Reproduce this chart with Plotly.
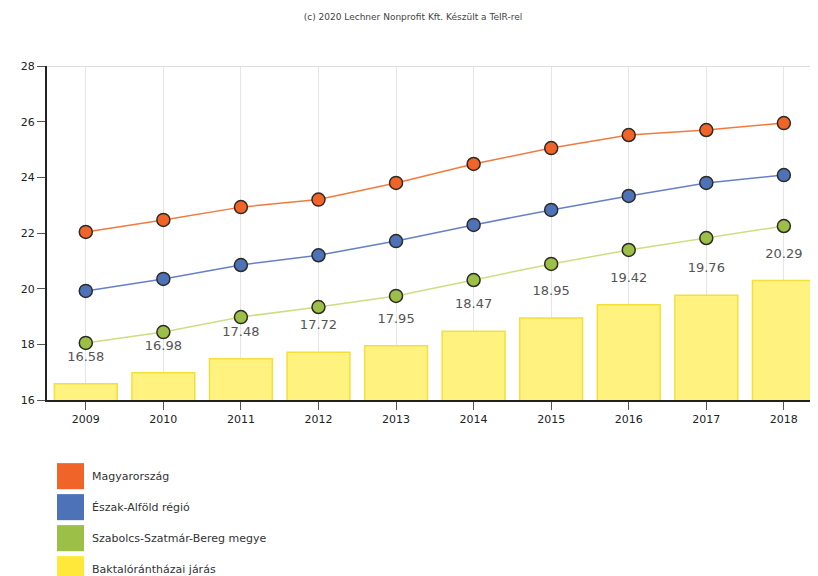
import plotly.graph_objects as go

years = ["2009", "2010", "2011", "2012", "2013", "2014", "2015", "2016", "2017", "2018"]
magyarorszag = [22.04, 22.47, 22.93, 23.2, 23.8, 24.48, 25.05, 25.52, 25.7, 25.95]
eszak_alfold = [19.92, 20.35, 20.85, 21.2, 21.71, 22.29, 22.83, 23.33, 23.8, 24.08]
szszb_megye = [18.05, 18.44, 18.98, 19.34, 19.74, 20.31, 20.89, 21.39, 21.82, 22.25]
baktalo_jaras = [16.58, 16.98, 17.48, 17.72, 17.95, 18.47, 18.95, 19.42, 19.76, 20.29]

names = ["Magyarország", "Észak-Alföld régió", "Szabolcs-Szatmár-Bereg megye", "Baktalórántházai járás"]
colors = ["#F0642A", "#4E72B8", "#9BBF47", "#FFE83A"]
line_colors = ["#F27A3E", "#6680C8", "#CFDD80"]
title = "(c) 2020 Lechner Nonprofit Kft. Készült a TeIR-rel"

FONT = "DejaVu Sans"

fig = go.Figure()
fig.add_bar(
    x=years,
    y=baktalo_jaras,
    marker=dict(color="#FFF27E", line=dict(color="#F5DF3A", width=1.5)),
    width=0.81,
    text=[f"{v:.2f}<br> " for v in baktalo_jaras],
    textposition="outside",
    textfont=dict(family=FONT, size=13, color="#555555"),
    cliponaxis=False,
    showlegend=False,
)

for series, c, lc in zip([magyarorszag, eszak_alfold, szszb_megye], colors[:3], line_colors):
    fig.add_scatter(
        x=years,
        y=series,
        mode="lines+markers",
        line=dict(color=lc, width=1.5),
        marker=dict(size=13, color=c, line=dict(color="#2e2a24", width=1.5)),
        showlegend=False,
    )

# legend drawn below the plot as coloured squares with labels
for i, (n, c) in enumerate(zip(names, colors)):
    top = -0.189 - i * 0.0928
    fig.add_shape(type="rect", xref="paper", yref="paper",
                  x0=0.013, x1=0.048, y0=top - 0.078, y1=top,
                  fillcolor=c, line=dict(width=0))
    fig.add_annotation(xref="paper", yref="paper", x=0.056, y=top - 0.039,
                       text=n, showarrow=False, xanchor="left", yanchor="middle",
                       font=dict(family=FONT, size=11, color="#333333"))

# page body has an 8px margin, so the figure is sized to fit the window
fig.update_layout(
    width=810,
    height=568,
    margin=dict(l=39, r=0, t=58, b=176),
    paper_bgcolor="white",
    plot_bgcolor="white",
    title=dict(text=title, x=0.5, xanchor="center", y=0.984, yanchor="middle",
               font=dict(family=FONT, size=9, color="#444444")),
    font=dict(family=FONT, size=11, color="#222222"),
)
fig.update_xaxes(
    type="category",
    range=[-0.5, 9.44],
    showgrid=True, gridcolor="#E6E6E6",
    showline=True, linecolor="#222222", linewidth=2,
    ticks="outside", ticklen=8, tickcolor="#555555",
    tickfont=dict(family=FONT, size=11, color="#222222"),
)
fig.update_yaxes(
    range=[16, 28],
    dtick=2,
    showgrid=False,
    showline=True, linecolor="#222222", linewidth=2,
    ticks="outside", ticklen=8, tickcolor="#555555",
    tickfont=dict(family=FONT, size=11, color="#222222"),
    zeroline=False,
)
fig.add_shape(type="line", xref="paper", yref="y", x0=0, x1=1, y0=28, y1=28,
              line=dict(color="#DDDDDD", width=2))

fig.write_html("out.html")
